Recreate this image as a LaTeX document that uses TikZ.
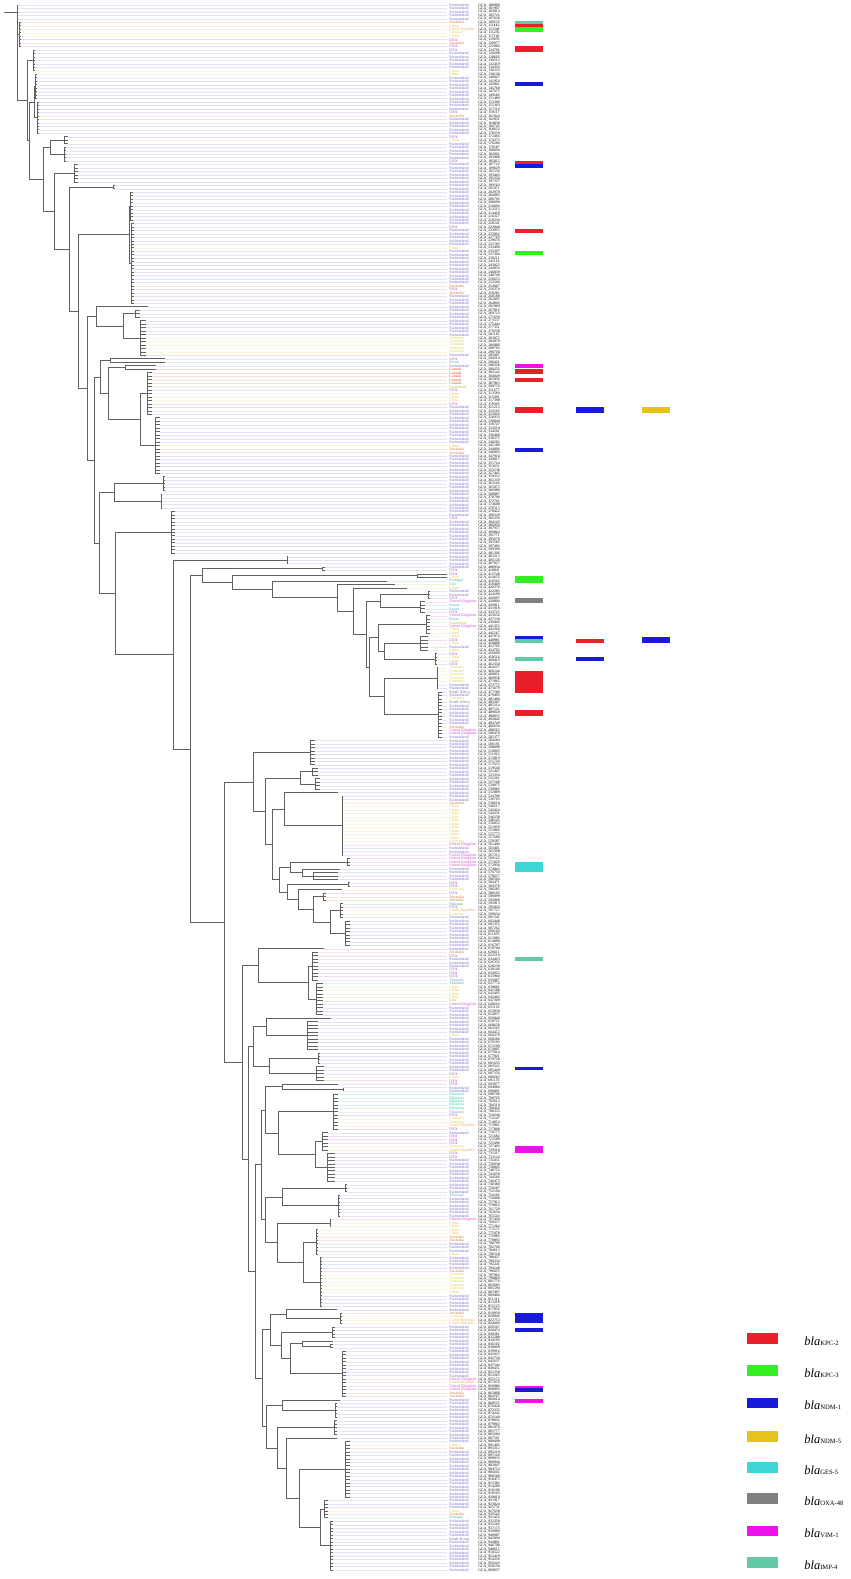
\documentclass[tikz,border=0pt]{standalone}
\usepackage{fontspec}
\setmainfont{Liberation Serif}
\definecolor{colS}{HTML}{6E64D2}
\definecolor{colU}{HTML}{A83FC4}
\definecolor{colC}{HTML}{E2C55C}
\definecolor{colA}{HTML}{E07A3A}
\definecolor{colZ}{HTML}{E8B24A}
\definecolor{colG}{HTML}{E4D050}
\definecolor{colK}{HTML}{D454D4}
\definecolor{colR}{HTML}{3AB4C4}
\definecolor{colN}{HTML}{E0502C}
\definecolor{colT}{HTML}{B4C83A}
\definecolor{colP}{HTML}{3CC0A0}
\definecolor{colF}{HTML}{6A6AB0}
\definecolor{colM}{HTML}{3CC0B4}
\definecolor{colH}{HTML}{6AA0C0}
\definecolor{colB}{HTML}{3AA8A8}
\definecolor{colQ}{HTML}{7060C0}
\definecolor{colI}{HTML}{8CC040}
\definecolor{kpcII}{HTML}{E8202A}
\definecolor{kpcIII}{HTML}{33EE22}
\definecolor{ndmI}{HTML}{1A1ADB}
\definecolor{ndmV}{HTML}{E6C21C}
\definecolor{gesV}{HTML}{3DD6D6}
\definecolor{oxa}{HTML}{808080}
\definecolor{vimI}{HTML}{EE11EE}
\definecolor{impIV}{HTML}{5FC9A8}
\def\cnS{Switzerland}\def\cnU{USA}\def\cnC{China}\def\cnA{Australia}
\def\cnZ{Czech Republic}\def\cnG{Germany}\def\cnK{United Kingdom}\def\cnR{Korea}
\def\cnN{Canada}\def\cnT{Guatemala}\def\cnP{Portugal}\def\cnF{South Africa}
\def\cnM{Malaysia}\def\cnH{Thailand}\def\cnB{Pakistan}\def\cnQ{South Korea}\def\cnI{Italy}
\newcommand\setv[2]{\expandafter\xdef\csname tv#1\endcsname{#2}}
\newcommand\getv[1]{\csname tv#1\endcsname}
\newcommand\tleaf[5]{%
  \pgfmathsetmacro\tya{5+3.47*#2}%
  \pgfmathsetmacro\tyb{5+3.47*#3}%
  \draw[br] (#4,\tya) -- (#4,\tyb);%
  \foreach \r in {#2,...,#3}{%
    \pgfmathsetmacro\tyy{5+3.47*\r}%
    \draw[br] (#4,\tyy) -- (#5,\tyy);%
    \setv{t\r}{#5}%
  }%
  \pgfmathsetmacro\tym{(\tya+\tyb)/2}%
  \setv{#1y}{\tym}\setv{#1x}{#4}%
}
\newcommand\tnode[4]{%
  \edef\tpa{\getv{#3y}}\edef\tpb{\getv{#4y}}%
  \edef\tqa{\getv{#3x}}\edef\tqb{\getv{#4x}}%
  \draw[br] (\tqa,\tpa) -- (#2,\tpa) -- (#2,\tpb) -- (\tqb,\tpb);%
  \pgfmathsetmacro\tym{(\tpa+\tpb)/2}%
  \setv{#1y}{\tym}\setv{#1x}{#2}%
}
\newcommand\gbar[4]{\fill[#4] (#1,#2) rectangle ({#1+28},#3);}
\newcommand\legtxt[1]{{\fontsize{6.2}{7}\selectfont\itshape bla}{\fontsize{3.3}{4}\selectfont #1}}
\tikzset{
  br/.style={draw=black!62, line width=0.45pt},
  lab/.style={anchor=west, inner sep=0pt, font=\fontsize{2}{2.4}\selectfont},
  acc/.style={anchor=west, inner sep=0pt, font=\fontsize{1.9}{2.3}\selectfont, text=black},
  leg/.style={anchor=base west, inner sep=0pt, text=black}
}
\begin{document}
\begin{tikzpicture}[x=0.5pt,y=-0.5pt]
\fill[white] (0,0) rectangle (851,1579);
\useasboundingbox (0,0) rectangle (851,1579);
% ---------- leaves ----------
\tleaf{L1}{0}{4}{17}{18}
\tleaf{L2}{5}{12}{19}{21}
\tleaf{B1}{13}{19}{33}{35}
\tleaf{B2}{20}{27}{35}{37}
\tleaf{B3}{28}{37}{37}{39}
\tleaf{E1}{38}{40}{64}{68}
\tleaf{E2}{41}{45}{64}{66}
\tleaf{G}{46}{51}{74}{78}
\tleaf{I}{52}{53}{113}{115}
\tleaf{K1}{54}{62}{130}{133}
\tleaf{K2}{63}{86}{131}{134}
\tleaf{M1}{87}{87}{148}{148}
\tleaf{M3}{88}{90}{135}{140}
\tleaf{M4}{91}{101}{140}{146}
\tleaf{O1}{102}{103}{110}{165}
\tleaf{O3}{104}{105}{125}{156}
\tleaf{O5}{106}{118}{147}{152}
\tleaf{O6}{119}{135}{155}{160}
\tleaf{Q1}{136}{140}{163}{165}
\tleaf{Q2}{141}{145}{161}{162}
\tleaf{S1}{146}{158}{171}{175}
\tleaf{U1}{159}{161}{287}{288}
\tleaf{W1}{162}{163}{322}{325}
\tleaf{W3}{164}{165}{417}{447}
\tleaf{W5}{166}{166}{387}{387}
\tleaf{W7}{167}{167}{395}{395}
\tleaf{W9}{168}{168}{407}{407}
\tleaf{W11a}{169}{171}{428}{430}
\tleaf{W11b}{172}{175}{420}{425}
\tleaf{W13a}{176}{181}{426}{430}
\tleaf{W13b}{182}{186}{420}{428}
\tleaf{W13c}{187}{190}{435}{437}
\tleaf{W14a}{191}{197}{437}{438}
\tleaf{W14b}{198}{211}{438}{442}
\tleaf{Y1}{212}{219}{310}{315}
\tleaf{Y3a}{220}{222}{312}{318}
\tleaf{Y3b}{223}{226}{315}{320}
\tleaf{Y5a}{227}{227}{338}{338}
\tleaf{Y5b}{228}{245}{342}{343}
\tleaf{Y7a}{246}{248}{347}{350}
\tleaf{Y7b}{249}{249}{340}{340}
\tleaf{Y7c}{250}{252}{313}{338}
\tleaf{Y8a}{253}{254}{348}{350}
\tleaf{Y8b}{255}{255}{342}{342}
\tleaf{Y8c}{256}{258}{323}{326}
\tleaf{Y8d}{259}{263}{340}{343}
\tleaf{Y8e}{264}{271}{345}{350}
\tleaf{AA1}{272}{272}{324}{324}
\tleaf{AA2a}{273}{281}{312}{318}
\tleaf{AA2b}{282}{291}{316}{323}
\tleaf{C1a}{292}{292}{331}{331}
\tleaf{C1b}{293}{301}{307}{318}
\tleaf{C2a}{302}{305}{318}{320}
\tleaf{C2b}{306}{310}{316}{324}
\tleaf{E1a}{311}{311}{338}{338}
\tleaf{E1b}{312}{313}{343}{343}
\tleaf{E1c}{314}{324}{333}{338}
\tleaf{E1e}{325}{330}{322}{328}
\tleaf{E1f}{331}{339}{327}{335}
\tleaf{E2a}{340}{342}{345}{347}
\tleaf{E2b}{343}{349}{338}{340}
\tleaf{E2c}{350}{352}{330}{331}
\tleaf{E2d}{353}{360}{316}{318}
\tleaf{E2e}{361}{375}{320}{322}
\tleaf{G1a}{376}{376}{337}{337}
\tleaf{G1b}{377}{380}{340}{342}
\tleaf{G2a}{381}{384}{332}{335}
\tleaf{G2b}{385}{385}{333}{333}
\tleaf{G2c}{386}{387}{330}{333}
\tleaf{G2d}{388}{401}{342}{346}
\tleaf{I1}{402}{402}{340}{340}
\tleaf{I2}{403}{407}{335}{337}
\tleaf{J1}{408}{412}{334}{337}
\tleaf{K1b}{413}{413}{337}{337}
\tleaf{L1a}{414}{430}{345}{350}
\tleaf{L1b}{431}{436}{324}{328}
\tleaf{L1c}{437}{451}{330}{333}
% ---------- internal nodes ----------
\tnode{Bx}{34}{B2}{B3}
\tnode{E}{50}{E1}{E2}
\tnode{K}{129}{K1}{K2}
\tnode{M2}{123}{M3}{M4}
\tnode{M}{96}{M1}{M2}
\tnode{O4}{140}{O5}{O6}
\tnode{O2}{108}{O3}{O4}
\tnode{O}{100}{O1}{O2}
\tnode{Q}{114}{Q1}{Q2}
\tnode{W11}{380}{W11a}{W11b}
\tnode{W13x}{384}{W13b}{W13c}
\tnode{W13}{378}{W13a}{W13x}
\tnode{W14}{384}{W14a}{W14b}
\tnode{W12}{369}{W13}{W14}
\tnode{W10}{366}{W11}{W12}
\tnode{W8}{353}{W9}{W10}
\tnode{W6}{337}{W7}{W8}
\tnode{W4}{272}{W5}{W6}
\tnode{W2}{232}{W3}{W4}
\tnode{W}{202}{W1}{W2}
\tnode{Y3}{300}{Y3a}{Y3b}
\tnode{Y5}{284}{Y5a}{Y5b}
\tnode{Y7x}{302}{Y7b}{Y7c}
\tnode{Y7}{290}{Y7a}{Y7x}
\tnode{Y8z}{330}{Y8d}{Y8e}
\tnode{Y8y}{313}{Y8c}{Y8z}
\tnode{Y8x}{298}{Y8b}{Y8y}
\tnode{Y8}{287}{Y8a}{Y8x}
\tnode{Y6}{279}{Y7}{Y8}
\tnode{Y4}{272}{Y5}{Y6}
\tnode{Y2}{265}{Y3}{Y4}
\tnode{Y}{253}{Y1}{Y2}
\tnode{AA2}{308}{AA2a}{AA2b}
\tnode{AA}{258}{AA1}{AA2}
\tnode{CC1}{266}{C1a}{C1b}
\tnode{CC2}{269}{C2a}{C2b}
\tnode{CC}{253}{CC1}{CC2}
\tnode{E1ab}{282}{E1a}{E1b}
\tnode{E1d}{315}{E1e}{E1f}
\tnode{E1x}{278}{E1c}{E1d}
\tnode{EE1}{265}{E1ab}{E1x}
\tnode{E2x}{282}{E2a}{E2b}
\tnode{E2y}{303}{E2d}{E2e}
\tnode{E2z}{277}{E2c}{E2y}
\tnode{EE2}{265}{E2x}{E2z}
\tnode{EE}{261}{EE1}{EE2}
\tnode{GG1}{286}{G1a}{G1b}
\tnode{G2x}{302}{G2b}{G2c}
\tnode{G2y}{290}{G2x}{G2d}
\tnode{GG2}{281}{G2a}{G2y}
\tnode{GG}{270}{GG1}{GG2}
\tnode{II}{282}{I1}{I2}
\tnode{LLx}{320}{L1b}{L1c}
\tnode{LL}{299}{L1a}{LLx}
\tnode{KK}{286}{K1b}{LL}
\tnode{JJ}{277}{J1}{KK}
\tnode{HH}{266}{II}{JJ}
\tnode{FF}{262}{GG}{HH}
\tnode{DD}{255}{EE}{FF}
\tnode{BB}{248}{CC}{DD}
\tnode{Zz}{242}{AA}{BB}
\tnode{X}{224}{Y}{Zz}
\tnode{V}{190}{W}{X}
\tnode{T}{173}{U1}{V}
\tnode{Rr}{115}{S1}{T}
\tnode{P}{99}{Q}{Rr}
\tnode{N}{94}{O}{P}
\tnode{Lc}{87}{M}{N}
\tnode{J}{78}{K}{Lc}
\tnode{H}{69}{I}{J}
\tnode{F}{54}{G}{H}
\tnode{D}{43}{E}{F}
\tnode{A2}{29}{Bx}{D}
\tnode{A}{27}{B1}{A2}
\tnode{n1}{17}{L2}{A}
\draw[br] (17,5) -- (17,\getv{n1y});
\draw[br] (4,12) -- (17,12);
% ---------- leader lines and labels ----------
\foreach \c [count=\i from 0] in {
S,S,S,S,S,A,C,Z,G,C, U,A,U,U,S,S,S,S,S,C, C,S,S,S,S,S,S,S,S,S, S,U,A,S,S,S,S,S,U,C,
S,S,S,S,S,U,S,S,S,S, S,S,S,S,S,S,S,S,S,S, S,S,S,S,U,S,S,S,S,S, C,S,S,S,S,S,S,S,S,S,
S,A,U,A,S,S,S,S,S,S, S,S,S,S,S,S,G,G,G,G, G,S,U,R,S,N,N,N,N,N, T,U,C,C,C,U,S,S,S,S,
S,S,S,S,S,S,S,C,A,A, S,S,S,S,S,S,S,S,S,S, S,S,S,S,S,S,S,S,U,S, S,S,S,S,S,S,S,S,S,S,
S,S,S,U,U,C,P,I,C,S, S,U,K,R,R,U,K,R,T,K, C,C,C,U,C,S,C,U,C,C, U,G,G,G,G,G,S,S,F,S,
G,F,S,S,S,S,S,S,A,K, K,S,S,S,S,S,S,S,S,S, S,S,S,S,S,S,S,S,S,S, A,C,C,C,C,C,C,C,C,C,
C,G,K,S,S,K,K,K,K,S, S,S,S,U,U,G,U,A,A,B, U,Z,G,S,S,S,S,S,S,S, S,S,S,A,U,S,S,S,U,U,
U,H,H,C,C,C,C,I,K,S, S,S,S,S,S,S,S,C,S,S, S,S,S,S,S,S,S,S,U,C, U,U,S,S,M,M,M,M,M,H,
U,G,G,Z,U,S,U,U,U,G, Z,U,U,S,S,S,S,S,S,S, S,S,S,H,S,S,S,S,S,S, K,C,C,C,C,A,A,S,S,S,
C,S,S,S,S,A,G,G,G,G, G,C,S,S,S,S,S,A,G,Z, Z,S,S,S,S,S,S,S,S,S, S,S,S,S,S,S,K,Z,K,K,
A,A,S,S,S,S,S,S,S,S, S,S,S,S,S,C,A,S,S,S, S,S,S,S,S,S,S,S,S,S, S,S,S,S,C,A,P,S,S,S,
S,S,Q,S,S,S,S,S,S,S, S,S}{
  \pgfmathsetmacro\yy{5+3.47*\i}
  \draw[line width=0.22pt, col\c!18] (\getv{t\i},\yy) -- (447,\yy);
  \node[lab, text=col\c] (c\i) at (449,\yy) {\csname cn\c\endcsname};
  \node[acc] (a\i) at (478,\yy) {GCA\_\the\numexpr 100000+\i*1907\relax};
}
% ---------- gene bars ----------
\gbar{515}{20.7}{24.1}{impIV}
\gbar{515}{24.1}{27.4}{kpcII}
\gbar{515}{27.4}{31.6}{kpcIII}
\gbar{515}{45.5}{52}{kpcII}
\gbar{515}{81.5}{85.5}{ndmI}
\gbar{515}{161}{164.3}{kpcII}
\gbar{515}{164.3}{168}{ndmI}
\gbar{515}{228.5}{232.5}{kpcII}
\gbar{515}{250.8}{254.6}{kpcIII}
\gbar{515}{364}{367.5}{vimI}
\gbar{515}{368.5}{374}{kpcII}
\gbar{515}{378}{381.5}{kpcII}
\gbar{515}{407}{413}{kpcII}
\gbar{576}{407}{413}{ndmI}
\gbar{642}{407}{413}{ndmV}
\gbar{515}{448}{451.5}{ndmI}
\gbar{515}{576}{583}{kpcIII}
\gbar{515}{598}{603}{oxa}
\gbar{515}{636}{639.3}{ndmI}
\gbar{515}{639.3}{643.3}{impIV}
\gbar{576}{639.3}{643.3}{kpcII}
\gbar{642}{637}{643.3}{ndmI}
\gbar{515}{657.3}{660.7}{impIV}
\gbar{576}{657}{660.7}{ndmI}
\gbar{515}{671}{693}{kpcII}
\gbar{515}{710}{716}{kpcII}
\gbar{515}{862}{872}{gesV}
\gbar{515}{957}{961}{impIV}
\gbar{515}{1066.5}{1069.5}{ndmI}
\gbar{515}{1146}{1153}{vimI}
\gbar{515}{1313}{1323}{ndmI}
\gbar{515}{1328}{1332}{ndmI}
\gbar{515}{1385.5}{1387.5}{vimI}
\gbar{515}{1387.5}{1392}{ndmI}
\gbar{515}{1399}{1403}{vimI}
% ---------- legend ----------
\fill[kpcII]  (747,1333) rectangle (778,1344);
\node[leg] (l1) at (804,1345) {\legtxt{KPC-2}};
\fill[kpcIII] (747,1365) rectangle (778,1376);
\node[leg] (l2) at (804,1377) {\legtxt{KPC-3}};
\fill[ndmI]   (747,1398) rectangle (778,1408);
\node[leg] (l3) at (804,1409) {\legtxt{NDM-1}};
\fill[ndmV]   (747,1431) rectangle (778,1442);
\node[leg] (l4) at (804,1443) {\legtxt{NDM-5}};
\fill[gesV]   (747,1462) rectangle (778,1473);
\node[leg] (l5) at (804,1474) {\legtxt{GES-5}};
\fill[oxa]    (747,1493) rectangle (778,1504);
\node[leg] (l6) at (804,1505) {\legtxt{OXA-48}};
\fill[vimI]   (747,1526) rectangle (778,1536);
\node[leg] (l7) at (804,1537) {\legtxt{VIM-1}};
\fill[impIV]  (747,1557) rectangle (778,1568);
\node[leg] (l8) at (804,1569) {\legtxt{IMP-4}};
\end{tikzpicture}
\end{document}
